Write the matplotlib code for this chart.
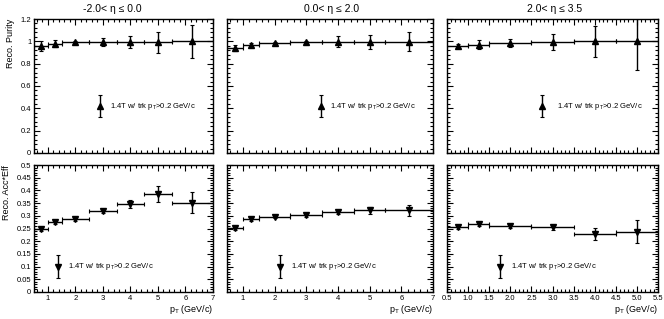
import matplotlib
matplotlib.use("Agg")
import matplotlib.pyplot as plt
from matplotlib.ticker import MultipleLocator
import numpy as np

plt.rcParams["font.family"] = ["Liberation Sans", "DejaVu Sans"]
plt.rcParams["mathtext.fontset"] = "custom"
plt.rcParams["mathtext.rm"] = "Liberation Sans"
plt.rcParams["mathtext.it"] = "Liberation Sans"

# ── Data ──────────────────────────────────────────────────────────
eta_titles = ["-2.0< η ≤ 0.0", "0.0< η ≤ 2.0", "2.0< η ≤ 3.5"]

# pT bin edges per eta range
edges_mid = [0.5, 1.0, 1.5, 2.5, 3.5, 4.5, 5.5, 7.0]
edges_fwd = [0.5, 1.0, 1.5, 2.5, 3.5, 4.5, 5.5]

purity_bwd = [0.96, 0.98, 0.995, 0.995, 0.99, 0.99, 1.0]
purity_bwd_err = [0.045, 0.033, 0.012, 0.033, 0.054, 0.095, 0.147]
purity_mid = [0.94, 0.97, 0.985, 0.99, 0.995, 0.995, 0.995]
purity_mid_err = [0.03, 0.015, 0.01, 0.012, 0.05, 0.06, 0.085]
purity_fwd = [0.96, 0.97, 0.985, 0.99, 1.0, 1.0]
purity_fwd_err = [0.012, 0.04, 0.04, 0.072, 0.14, 0.26]

eff_bwd = [0.248, 0.274, 0.286, 0.317, 0.348, 0.386, 0.352]
eff_bwd_err = [0.007, 0.006, 0.006, 0.007, 0.016, 0.03, 0.04]
eff_mid = [0.252, 0.287, 0.296, 0.303, 0.314, 0.321, 0.321]
eff_mid_err = [0.006, 0.006, 0.006, 0.007, 0.008, 0.012, 0.02]
eff_fwd = [0.256, 0.266, 0.258, 0.255, 0.229, 0.238]
eff_fwd_err = [0.006, 0.006, 0.006, 0.009, 0.024, 0.047]

purity = [(purity_bwd, purity_bwd_err), (purity_mid, purity_mid_err), (purity_fwd, purity_fwd_err)]
eff = [(eff_bwd, eff_bwd_err), (eff_mid, eff_mid_err), (eff_fwd, eff_fwd_err)]
edges = [edges_mid, edges_mid, edges_fwd]

legend_label = "1.4T w/ trk p$_{T}$>0.2 GeV/c"

# ── Layout (pixels -> figure fraction) ────────────────────────────
W, H = 664, 319
cols = [(34, 213), (227, 433), (447, 658)]
rows = [(19, 153), (165, 292)]
title_x = [0.44, 0.51, 0.51]   # ROOT centres the title on the pad, not the frame

fig = plt.figure(figsize=(W / 100, H / 100), dpi=100)

# legend symbol positions (axes fraction): marker x, text x
leg_top = [(0.37, 0.425), (0.456, 0.50), (0.45, 0.52)]
leg_bot = [(0.134, 0.19), (0.257, 0.31), (0.25, 0.305)]


def style_axis(ax, x_major, x_minor):
    ax.tick_params(which="both", direction="in", top=True, right=True,
                   labelsize=5.5, width=0.8, pad=2)
    ax.tick_params(which="major", length=4)
    ax.tick_params(which="minor", length=2)
    ax.xaxis.set_major_locator(MultipleLocator(x_major))
    ax.xaxis.set_minor_locator(MultipleLocator(x_minor))
    for s in ax.spines.values():
        s.set_linewidth(1.0)


for r, (y0, y1) in enumerate(rows):
    for c, (x0, x1) in enumerate(cols):
        ax = fig.add_axes([x0 / W, 1 - y1 / H, (x1 - x0) / W, (y1 - y0) / H])
        e = np.array(edges[c])
        centers = 0.5 * (e[:-1] + e[1:])
        half = 0.5 * (e[1:] - e[:-1])
        if r == 0:
            vals, errs = purity[c]
            marker = "^"
        else:
            vals, errs = eff[c]
            marker = "v"
        ax.errorbar(centers, vals, xerr=half, yerr=errs, fmt=marker,
                    color="black", ms=4.5, elinewidth=1.0, capsize=1.2,
                    capthick=0.8, clip_on=True)
        ax.set_xlim(e[0], e[-1])
        if c == 2:
            style_axis(ax, 0.5, 0.1)
        else:
            style_axis(ax, 1, 0.2)

        if r == 0:
            ax.set_ylim(0, 1.2)
            ax.yaxis.set_major_locator(MultipleLocator(0.2))
            ax.yaxis.set_minor_locator(MultipleLocator(0.04))
            ax.set_title(eta_titles[c], fontsize=7.5, pad=5, x=title_x[c])
            ax.tick_params(labelbottom=False)
            mx, tx = leg_top[c]
            my, merr = 0.35, 0.083
        else:
            ax.set_ylim(0, 0.5)
            ax.yaxis.set_major_locator(MultipleLocator(0.05))
            ax.yaxis.set_minor_locator(MultipleLocator(0.01))
            ax.set_xlabel("p$_{T}$ (GeV/c)", fontsize=6.5, loc="right", labelpad=1)
            mx, tx = leg_bot[c]
            my, merr = 0.2, 0.09
        if c > 0:
            ax.tick_params(labelleft=False)
        else:
            ax.yaxis.set_major_formatter(
                plt.FuncFormatter(lambda v, p: f"{v:g}"))
            ax.set_ylabel("Reco. Purity" if r == 0 else "Reco. Acc*Eff",
                          fontsize=6.5, loc="top", labelpad=4)

        # legend entry
        ax.errorbar([mx], [my], yerr=[merr], fmt=marker, color="black",
                    ms=4.5, elinewidth=1.0, capsize=1.2, capthick=0.8,
                    transform=ax.transAxes)
        ax.text(tx, my, legend_label, transform=ax.transAxes, fontsize=5.5,
                va="center", ha="left")

fig.savefig("out.png", dpi=100)
